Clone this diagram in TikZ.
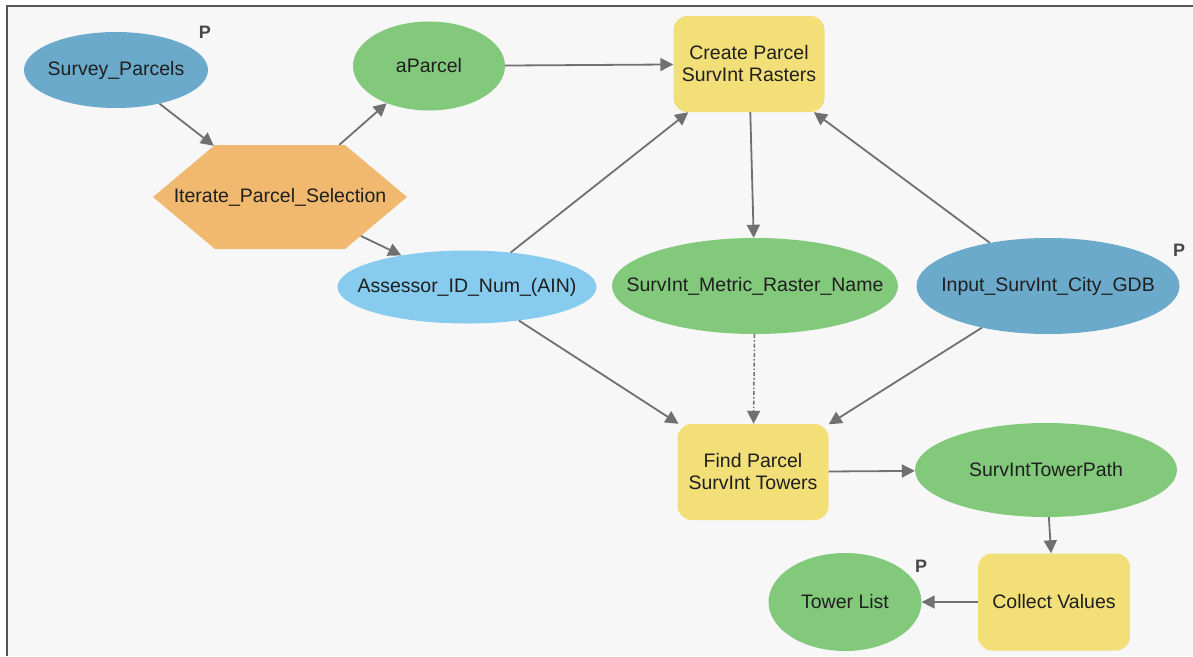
\documentclass[tikz,border=0pt]{standalone}
\usepackage{fontspec}
\setmainfont{Liberation Sans}
\usetikzlibrary{arrows.meta,shapes.geometric,shapes.symbols}

\definecolor{bgpanel}{HTML}{F7F7F7}
\definecolor{framegray}{HTML}{555555}
\definecolor{edgegray}{HTML}{707070}
\definecolor{inputblue}{HTML}{6BAACB}
\definecolor{valueblue}{HTML}{87CBEF}
\definecolor{outgreen}{HTML}{82C97C}
\definecolor{toolyellow}{HTML}{F2DF78}
\definecolor{iterorange}{HTML}{F0B96F}

% keep the label from widening the shape
\newcommand{\nolap}[1]{\makebox[0pt]{#1}}

\begin{document}
\begin{tikzpicture}[x=1pt,y=-1pt,
    every node/.style={font=\fontsize{19.5}{22}\selectfont,text=black!88},
    data/.style={ellipse,inner sep=0pt},
    tool/.style={rectangle,rounded corners=14pt,fill=toolyellow,inner sep=2pt,
        minimum width=151pt,minimum height=96pt,align=center},
    iterator/.style={signal,signal to=west and east,signal pointer angle=80,
        fill=iterorange,inner sep=0pt,minimum width=254pt,minimum height=104pt},
    plabel/.style={font=\fontsize{18}{20}\selectfont\bfseries,text=black!72},
    flow/.style={draw=edgegray,line width=1.8pt,-{Triangle[length=13pt,width=13pt]}},
    preflow/.style={flow,line width=1.5pt,
        dash pattern=on 4pt off 2pt on 1.5pt off 2pt}]

% panel
\useasboundingbox (0,0) rectangle (1193,656);
\fill[white] (0,0) rectangle (1193,656);
\fill[bgpanel] (7,6) rectangle (1193,656);
\draw[framegray,line width=2pt] (7,656) -- (7,6) -- (1193,6);

% inputs and values
\node[data,fill=inputblue,minimum width=184pt,minimum height=76pt] (survey) at (116,70) {\nolap{Survey\_Parcels}};
\node[plabel] (psurvey) at (205,32) {P};
\node[iterator] (iterate) at (280,197) {\nolap{Iterate\_Parcel\_Selection}};
\node[data,fill=outgreen,minimum width=152pt,minimum height=89pt] (aparcel) at (429,66) {\nolap{aParcel}};
\node[data,fill=valueblue,minimum width=259pt,minimum height=73pt] (ain) at (467,287) {\nolap{Assessor\_ID\_Num\_(AIN)}};
\node[data,fill=outgreen,minimum width=286pt,minimum height=96pt] (rastername) at (755,286) {\nolap{SurvInt\_Metric\_Raster\_Name}};
\node[data,fill=inputblue,minimum width=263pt,minimum height=96pt] (citygdb) at (1048,286) {\nolap{Input\_SurvInt\_City\_GDB}};
\node[plabel] (pcitygdb) at (1179,250) {P};

% tools
\node[tool] (rasters) at (749,64) {Create Parcel\\SurvInt Rasters};
\node[tool] (towers) at (753,472) {Find Parcel\\SurvInt Towers};
\node[tool,minimum width=152pt,minimum height=97pt] (collect) at (1054,602) {Collect Values};

% outputs
\node[data,fill=outgreen,minimum width=262pt,minimum height=94pt] (towerpath) at (1046,470) {\nolap{SurvIntTowerPath}};
\node[data,fill=outgreen,minimum width=153pt,minimum height=98pt] (towerlist) at (845,602) {\nolap{Tower List}};
\node[plabel] (ptowerlist) at (921,566) {P};

\draw[flow] (survey) -- (iterate);
\draw[flow] (iterate) -- (aparcel);
\draw[flow] (iterate) -- (ain);
\draw[flow] (aparcel) -- (rasters);
\draw[flow] (ain) -- (rasters);
\draw[flow] (citygdb) -- (rasters);
\draw[flow] (rasters) -- (rastername);
\draw[flow] (ain) -- (towers);
\draw[preflow] (rastername) -- (towers);
\draw[flow] (citygdb) -- (towers);
\draw[flow] (towers) -- (towerpath);
\draw[flow] (towerpath) -- (collect);
\draw[flow] (collect) -- (towerlist);
\end{tikzpicture}
\end{document}
